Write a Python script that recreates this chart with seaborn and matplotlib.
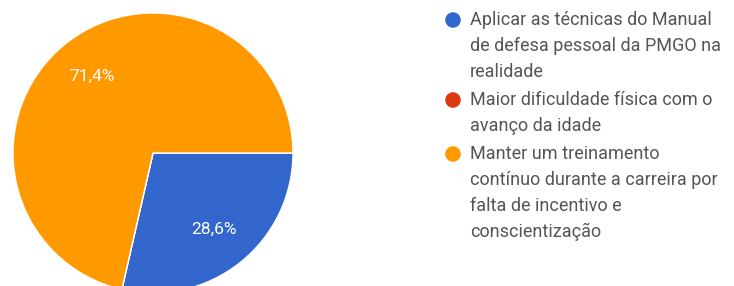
import matplotlib
matplotlib.use("Agg")
import matplotlib.pyplot as plt
import seaborn as sns

sns.set_theme(style="white")
plt.rcParams['font.family'] = ['Roboto', 'DejaVu Sans']

categories = [
    "Aplicar as técnicas do Manual\nde defesa pessoal da PMGO na\nrealidade",
    "Maior dificuldade física com o\navanço da idade",
    "Manter um treinamento\ncontínuo durante a carreira por\nfalta de incentivo e\nconscientização",
]
values = [2, 0, 5]
colors = ["#3366CC", "#DC3912", "#FF9900"]

W, H = 734, 286
fig = plt.figure(figsize=(W / 100, H / 100), dpi=100)
fig.patch.set_facecolor("white")

# pie axes: center ~ (153,153) px, radius ~140 px
cx, cy, r = 153, 153, 140
ax = fig.add_axes([(cx - r) / W, (H - cy - r) / H, 2 * r / W, 2 * r / H])

def fmt(p):
    return (f"{p:.1f}%".replace('.', ',')) if p > 0 else ""

wedges, texts, autotexts = ax.pie(
    values, colors=colors, startangle=0, counterclock=False,
    autopct=fmt, pctdistance=0.7,
    wedgeprops=dict(edgecolor="white", linewidth=1),
    textprops=dict(color="white", fontsize=12.5),
)
ax.set_xlim(-1, 1)
ax.set_ylim(-1, 1)
ax.set_aspect("equal")
ax.axis("off")

# legend overlay in pixel coordinates
lax = fig.add_axes([0, 0, 1, 1], facecolor="none")
lax.set_xlim(0, W)
lax.set_ylim(H, 0)
lax.axis("off")
x_circle, x_text = 453, 470
y = 20
line_h = 26
for lab, col in zip(categories, colors):
    lax.scatter([x_circle], [y], s=125, color=col, edgecolors="none")
    lines = lab.split("\n")
    for i, line in enumerate(lines):
        lax.text(x_text, y + i * line_h, line, fontsize=13,
                 color="#555555", va="center", ha="left")
    y += len(lines) * line_h + 2

fig.savefig("out.png", dpi=100, facecolor="white")
